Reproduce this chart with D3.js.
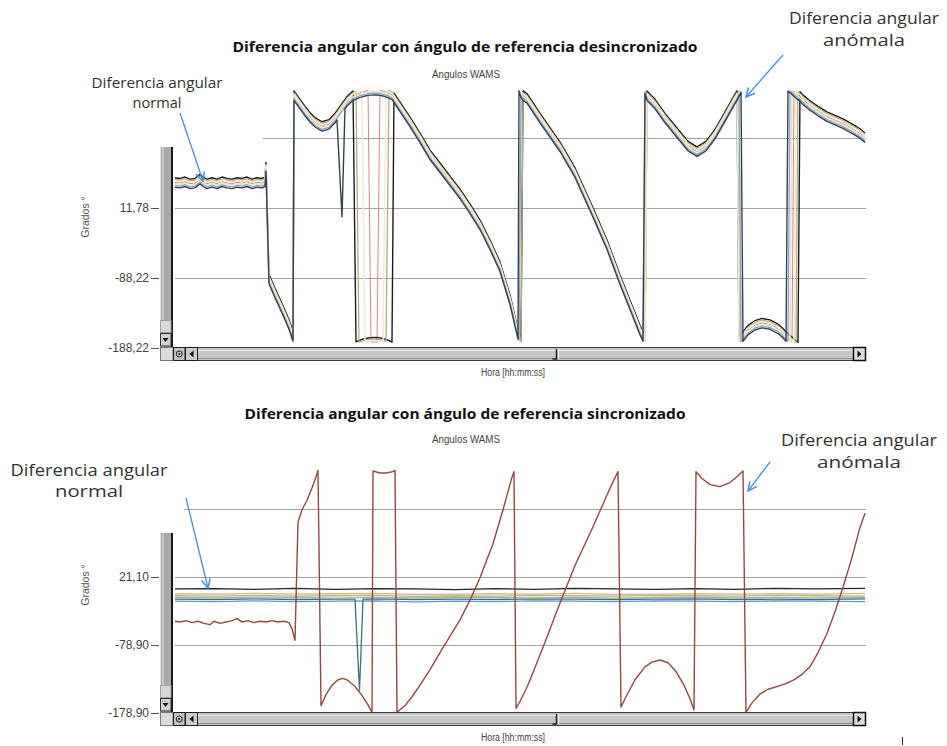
<!DOCTYPE html>
<html>
<head>
<meta charset="utf-8">
<script src="https://cdn.jsdelivr.net/npm/d3@7"></script>
<style>
  body { margin: 0; background: #fff; }
  svg { display: block; }
</style>
</head>
<body>
<svg id="chart" width="947" height="746"></svg>
<script>
// time axis = seconds since start of the record (no tick labels in the viewer)

// ---- upper panel: reference angle out of sync ----
// reference PMU trace as shown by the viewer, [t, degrees]
const topRef = [
  [0,48],[5,47],[10,49],[15,46],[20,47],[25,53],[28,49],[32,46],[37,48],[42,46],[47,49],[52,47],
  [57,46],[62,48],[67,47],[72,49],[77,46],[82,48],[87,47],[90,49],
  [91,70],[94,-90],[100,-110],[108,-135],[114,-155],[118,-172],
  [119,172],[120,170],[125,160],[130,150],[135,141],[140,134],[147,128],[154,131],[160,140],[162,144],
  [166,152],[170,160],[172,164],[178,172],
  [181,173.5],[184,175.5],[187,177],[190,178.2],[193,179.1],[196,179.6],[199,179.9],[202,179.7],
  [205,179.2],[208,178.3],[211,177],[214,175.2],[217,173],[219,169],
  [225,156],[235,134.6],[245,111.8],[255,87.5],[265,69],[275,50.4],[285,31.8],[295,10.4],[305,-12.5],
  [315,-41],[325,-72.5],[335,-119.6],[343,-169],[344,-174],[346,176],[348,172],
  [352,168],[365,140],[385,99],[400,62],[418,5],[432,-41],[445,-91],[457,-134],[465,-163],[468,-172],
  [470,-178],[472,172],
  [480,160],[490,140],[502,119],[513,100],[522,92],[531,100],[540,117],[552,147],[559,165],[562,172],
  [564,178],[566,-176],[568,-172],
  [573,-163],[580,-156],[587,-153],[595,-155],[603,-161],[607,-166],[609,-169],[611,-172],[613,-174.5],
  [615,-177],[617,-179.5],[619,178],[621,175.5],[623,173],[625,171],
  [628,166],[635,158],[643,150],[652,142],[660,137],[668,132],[677,125],[685,118],[690,112]
];
// spread of each PMU around the reference trace (degrees)
const topOffsets = [0.5, 7, 4.5, 2.5, -1.5, -4, -6.5];
const topColors = ["#d27a72", "#1c1c1c", "#b9aa7e", "#f2ebd6", "#efe4c8", "#86a6cc", "#33424f"];
const topWidths = [0.9, 1.4, 1.3, 1.6, 1.6, 1.3, 1.4];
// single bad sample on the last PMU
const topGlitch = [[167, -1]];
const topTicks = [-188.22, -88.22, 11.78, 111.78];

// ---- lower panel: reference angle in sync ----
const flatTime = [0,40,80,120,160,200,240,280,320,360,400,440,480,520,560,600,640,690];
const botBlack = [3.5,4,3,4.5,3,4,3.5,2.5,4,3,4.5,3.5,3,4,3,4.5,3.5,4.5];
const botTan   = [-3.5,-4,-3,-4,-3.5,-3,-4.5,-4,-3.5,-4,-3,-4.5,-4,-3.5,-4,-3.5,-4,-3];
const botGreen = [-6.5,-7,-6,-7,-6.5,-6,-7.5,-6.5,-7,-6,-6.5,-7,-6,-6.5,-7,-6,-6.5,-7];
const botGray  = [-9,-9.5,-8.5,-9,-10,-9,-9.5,-8.5,-9,-9.5,-9,-10,-9,-8.5,-9.5,-9,-9.5,-9];
const botTeal  = [-11.5,-12,-11,-12,-11.5,-11,-12,-11.5,-12,-11,-11.5,-12,-11.5,-11,-12,-11.5,-12,-11];
const botBlue  = [-14.5,-15,-14,-15,-14.5,-14,-15.5,-14.5,-15,-14,-14.5,-15,-14,-14.5,-15,-14,-14.5,-15];
const botTealGlitch = [[180,-11.5],[184.5,-145],[188,-11.5]];
// the PMU that loses sync
const botAnomaly = [
  [0,-44],[5,-45],[11,-43],[17,-46],[23,-44],[29,-47],[35,-49],[39,-44],[45,-47],[51,-45],[57,-43],
  [62,-40],[67,-45],[73,-43],[79,-46],[85,-44],[91,-45],[97,-43],[103,-45],[109,-44],[114,-46],
  [117,-55],[120,-72],[123,102],[127,120],[132,134],[137,152],[141,168],[143,178],
  [146,-168],[151,-152],[157,-138],[163,-130],[168,-128],[173,-131],[180,-140],[187,-153],[193,-167],[197,-178],
  [198,177],[205,174],[211,174],[218,176],[220,178],
  [222,-178],[230,-168],[237,-155],[245,-138],[255,-115],[265,-90],[275,-66],[285,-42],[295,-13],
  [305,20],[318,70],[328,120],[337,168],[339,176],
  [341,-172],[345,-162],[352,-141],[360,-112],[370,-75],[385,-17],[400,38],[418,95],[430,135],[437,158],[443,176],
  [446,-170],[452,-152],[460,-130],[470,-111],[477,-104],[485,-101],[493,-105],[501,-118],[509,-138],[515,-158],[519,-174],
  [521,176],[527,166],[535,157],[545,154],[555,160],[563,170],[568,177],
  [571,-178],[577,-164],[585,-151],[593,-144],[602,-140],[610,-136],[618,-131],[627,-122],[635,-111],
  [643,-90],[652,-62],[660,-30],[668,6],[677,50],[685,94],[690,115]
];
const botTicks = [-178.9, -78.9, 21.1, 121.1];

const svg = d3.select("#chart");
svg.append("rect").attr("width", 947).attr("height", 746).attr("fill", "#fff");

const x = d3.scaleLinear().domain([0, 690]).range([175, 865]);
const wrap = v => ((v + 180) % 360 + 360) % 360 - 180;
const fmt = d => d.toFixed(2).replace(".", ",");

// build the series for each panel
const topSeries = topOffsets.map((off, i) => {
  let pts = topRef.map(d => [d[0], wrap(d[1] + off)]);
  if (i === topOffsets.length - 1) {
    pts = pts.filter(d => !(d[0] > 162 && d[0] < 170)).concat(topGlitch);
    pts.sort((a, b) => a[0] - b[0]);
  }
  return { color: topColors[i], pts: pts, w: topWidths[i] };
});

const flat = (vals, col) => ({ color: col, pts: flatTime.map((t, i) => [t, vals[i]]), w: 1.3 });
const tealPts = flatTime.map((t, i) => [t, botTeal[i]]).concat(botTealGlitch).sort((a, b) => a[0] - b[0]);
const botSeries = [
  flat(botBlue, "#5b9bd5"),
  { color: "#3f6f7c", pts: tealPts, w: 1.3 },
  flat(botGray, "#a7aea6"),
  flat(botGreen, "#a9bd7a"),
  flat(botTan, "#dcb386"),
  flat(botBlack, "#262626"),
  { color: "#934a3e", pts: botAnomaly, w: 1.4 }
];

const defs = svg.append("defs");

function scrollbars(g, top, rowY) {
  // vertical bar next to the value axis
  g.append("rect").attr("x", 160).attr("y", top).attr("width", 12).attr("height", rowY - top)
    .attr("fill", "#a9a9a9");
  g.append("rect").attr("x", 160).attr("y", top).attr("width", 1).attr("height", rowY - top)
    .attr("fill", "#e2e2e2");
  g.append("rect").attr("x", 162).attr("y", top).attr("width", 2).attr("height", rowY - top)
    .attr("fill", "#c4c4c4");
  g.append("rect").attr("x", 171).attr("y", top).attr("width", 2).attr("height", rowY - top)
    .attr("fill", "#181818");
  g.append("rect").attr("x", 160.5).attr("y", rowY - 26.5).attr("width", 10.5).attr("height", 12)
    .attr("fill", "#d8d8d8").attr("stroke", "#a0a0a0");
  g.append("rect").attr("x", 160.5).attr("y", rowY - 13.5).attr("width", 10.5).attr("height", 12.5)
    .attr("fill", "#d0d0d0").attr("stroke", "#333");
  g.append("path").attr("d", `M162.5,${rowY - 9} h6 l-3,4 z`).attr("fill", "#111");

  // horizontal bar under the plot
  g.append("rect").attr("x", 160.5).attr("y", rowY + 0.5).attr("width", 705).attr("height", 13)
    .attr("fill", "#c6c6c6").attr("stroke", "#3a3a3a");
  g.append("line").attr("x1", 198).attr("x2", 853).attr("y1", rowY + 3.5).attr("y2", rowY + 3.5)
    .attr("stroke", "#ececec");
  g.append("line").attr("x1", 198).attr("x2", 853).attr("y1", rowY + 11.5).attr("y2", rowY + 11.5)
    .attr("stroke", "#8e8e8e");
  g.append("rect").attr("x", 160.5).attr("y", rowY + 0.5).attr("width", 12.5).attr("height", 13)
    .attr("fill", "#dcdcdc").attr("stroke", "#7a7a7a");
  g.append("rect").attr("x", 173.5).attr("y", rowY + 0.5).attr("width", 11.5).attr("height", 13)
    .attr("fill", "#c0c0c0").attr("stroke", "#1e1e1e");
  g.append("circle").attr("cx", 179.2).attr("cy", rowY + 7).attr("r", 3)
    .attr("fill", "none").attr("stroke", "#222");
  g.append("circle").attr("cx", 179.2).attr("cy", rowY + 7).attr("r", 1).attr("fill", "#222");
  g.append("rect").attr("x", 185.5).attr("y", rowY + 0.5).attr("width", 12).attr("height", 13)
    .attr("fill", "#cccccc").attr("stroke", "#1e1e1e");
  g.append("path").attr("d", `M189.5,${rowY + 7} l4,-3.5 v7 z`).attr("fill", "#111");
  // thumb edge
  g.append("path").attr("d", `M556.5,${rowY + 2} v10 h-4`).attr("fill", "none")
    .attr("stroke", "#222").attr("stroke-width", 1.5);
  g.append("line").attr("x1", 558.5).attr("x2", 558.5).attr("y1", rowY + 2).attr("y2", rowY + 12)
    .attr("stroke", "#f4f4f4");
  g.append("rect").attr("x", 853.5).attr("y", rowY + 0.5).attr("width", 12).attr("height", 13)
    .attr("fill", "#dedede").attr("stroke", "#111").attr("stroke-width", 1.5);
  g.append("path").attr("d", `M857.5,${rowY + 3.5} l4,3.5 l-4,3.5 z`).attr("fill", "#111");
}

function drawPanel(p) {
  const y = d3.scaleLinear().domain(p.domain).range(p.range);
  const g = svg.append("g");
  const rowY = p.range[0] - 1;

  // grid lines
  g.selectAll(".grid").data(p.ticks.slice(1)).join("line")
    .attr("x1", 175).attr("x2", 866)
    .attr("y1", d => Math.round(y(d)) + 0.5).attr("y2", d => Math.round(y(d)) + 0.5)
    .attr("stroke", "#a4a4a4").attr("stroke-width", 1);

  defs.append("clipPath").attr("id", p.id).append("rect")
    .attr("x", 175).attr("y", y(180) - 4).attr("width", 692).attr("height", rowY - y(180) + 4);

  const line = d3.line().x(d => x(d[0])).y(d => y(d[1]));
  g.append("g").attr("clip-path", `url(#${p.id})`)
    .selectAll("path").data(p.series).join("path")
    .attr("d", d => line(d.pts))
    .attr("fill", "none")
    .attr("stroke", d => d.color)
    .attr("stroke-width", d => d.w)
    .attr("stroke-linejoin", "round");

  scrollbars(g, p.scrollTop, rowY);

  // value axis
  const ax = g.append("g").attr("transform", "translate(159,0)")
    .call(d3.axisLeft(y).tickValues(p.ticks).tickSize(8).tickPadding(2).tickFormat(fmt));
  ax.select(".domain").remove();
  ax.selectAll("line").attr("stroke", "#555");
  ax.selectAll("text").attr("font-family", "Liberation Sans, Arial, sans-serif")
    .attr("font-size", 12).attr("fill", "#444");

  g.append("text")
    .attr("transform", `translate(89,${p.labelY}) rotate(-90)`)
    .attr("text-anchor", "middle")
    .attr("font-family", "Liberation Sans, Arial, sans-serif").attr("font-size", 10.5)
    .attr("fill", "#555").text("Grados °");

  g.append("text").attr("x", 465).attr("y", p.titleY)
    .attr("text-anchor", "middle")
    .attr("font-family", "Open Sans, sans-serif").attr("font-weight", "bold").attr("font-size", 14)
    .attr("fill", "#111")
    .attr("textLength", p.titleW).attr("lengthAdjust", "spacingAndGlyphs")
    .text(p.title);

  g.append("text").attr("x", 466).attr("y", p.subY)
    .attr("text-anchor", "middle")
    .attr("font-family", "Liberation Sans, Arial, sans-serif").attr("font-size", 10)
    .attr("fill", "#444")
    .attr("textLength", 68).attr("lengthAdjust", "spacingAndGlyphs")
    .text("Ángulos WAMS");

  g.append("text").attr("x", 513).attr("y", rowY + 29)
    .attr("text-anchor", "middle")
    .attr("font-family", "Liberation Sans, Arial, sans-serif").attr("font-size", 10)
    .attr("fill", "#444")
    .attr("textLength", 64).attr("lengthAdjust", "spacingAndGlyphs")
    .text("Hora [hh:mm:ss]");
}

drawPanel({
  id: "clipTop", domain: [-188.22, 111.78], range: [348, 138], ticks: topTicks,
  series: topSeries, scrollTop: 92, labelY: 217,
  title: "Diferencia angular con ángulo de referencia desincronizado", titleY: 52, titleW: 465, subY: 78
});
drawPanel({
  id: "clipBot", domain: [-178.9, 121.1], range: [713, 509], ticks: botTicks,
  series: botSeries, scrollTop: 470, labelY: 585,
  title: "Diferencia angular con ángulo de referencia sincronizado", titleY: 419, titleW: 441, subY: 443
});

// ---- callouts pasted over the screenshots ----
svg.append("rect").attr("x", 60).attr("y", 62).attr("width", 203).attr("height", 85).attr("fill", "#fff");
svg.append("rect").attr("x", 0).attr("y", 452).attr("width", 184).attr("height", 81).attr("fill", "#fff");

defs.append("marker").attr("id", "arr")
  .attr("viewBox", "0 0 10 10").attr("refX", 9).attr("refY", 5)
  .attr("markerWidth", 11).attr("markerHeight", 11).attr("markerUnits", "userSpaceOnUse")
  .attr("orient", "auto")
  .append("path").attr("d", "M1,1 L9,5 L1,9").attr("fill", "none")
  .attr("stroke", "#4a8fd8").attr("stroke-width", 1.4);

const notes = [
  { lines: ["Diferencia angular", "normal"], x: 157, y: [88, 108], w: [131, 49], fs: 15,
    arrow: [180, 113, 203, 181] },
  { lines: ["Diferencia angular", "anómala"], x: 864, y: [24, 46], w: [150, 82], fs: 16,
    arrow: [783, 55, 746, 97] },
  { lines: ["Diferencia angular", "normal"], x: 89, y: [476, 497], w: [157, 68], fs: 17,
    arrow: [186, 498, 208, 588] },
  { lines: ["Diferencia angular", "anómala"], x: 859, y: [446, 468], w: [156, 84], fs: 17,
    arrow: [770, 462, 748, 491] }
];

notes.forEach(n => {
  n.lines.forEach((s, i) => {
    svg.append("text").attr("x", n.x).attr("y", n.y[i])
      .attr("text-anchor", "middle")
      .attr("font-family", "Open Sans, sans-serif").attr("font-size", n.fs)
      .attr("fill", "#333")
      .attr("textLength", n.w[i]).attr("lengthAdjust", "spacingAndGlyphs")
      .text(s);
  });
  svg.append("line")
    .attr("x1", n.arrow[0]).attr("y1", n.arrow[1]).attr("x2", n.arrow[2]).attr("y2", n.arrow[3])
    .attr("stroke", "#4a8fd8").attr("stroke-width", 1.3)
    .attr("marker-end", "url(#arr)");
});

// stray mark at the lower right of the original page
svg.append("line").attr("x1", 902.5).attr("x2", 902.5).attr("y1", 737).attr("y2", 745)
  .attr("stroke", "#333");
</script>
</body>
</html>
